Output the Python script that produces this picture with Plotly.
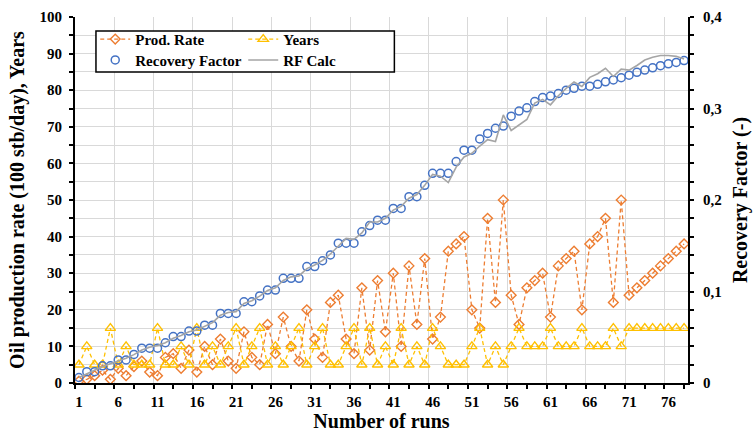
import plotly.graph_objects as go

runs = list(range(1, 79))

prod_rate = [0.5, 1, 2, 3.5, 1, 4, 2, 4.5, 6, 3, 2, 7, 8, 4, 9, 3, 10, 5, 12, 6,
             4, 14, 7, 5, 16, 8, 18, 10, 6, 20, 12, 7, 22, 24, 12, 8, 26, 9, 28, 14,
             30, 10, 32, 16, 34, 12, 18, 36, 38, 40, 20, 15, 45, 22, 50, 24, 16, 26, 28, 30,
             18, 32, 34, 36, 20, 38, 40, 45, 22, 50, 24, 26, 28, 30, 32, 34, 36, 38]

years = [5, 10, 5, 5, 15, 5, 10, 5, 5, 5, 15, 5, 5, 10, 5, 15, 5, 10, 5, 10,
         15, 5, 10, 15, 5, 10, 5, 10, 15, 5, 10, 15, 5, 5, 10, 15, 5, 15, 5, 10,
         5, 15, 5, 10, 5, 15, 10, 5, 5, 5, 10, 15, 5, 10, 5, 10, 15, 10, 10, 10,
         15, 10, 10, 10, 15, 10, 10, 10, 15, 10, 15, 15, 15, 15, 15, 15, 15, 15]

recovery_factor = [0.006, 0.0124, 0.0124, 0.0188, 0.0188, 0.0252, 0.0252, 0.0312, 0.038, 0.038,
                   0.038, 0.044, 0.0508, 0.0508, 0.0568, 0.0568, 0.0632, 0.0632, 0.076, 0.076,
                   0.076, 0.0888, 0.0888, 0.0952, 0.1016, 0.1016, 0.1144, 0.1144, 0.1144, 0.1272,
                   0.1272, 0.1336, 0.14, 0.1528, 0.1528, 0.1528, 0.1652, 0.172, 0.178, 0.178,
                   0.1908, 0.1908, 0.2036, 0.2036, 0.216, 0.2292, 0.2292, 0.2292, 0.242, 0.2544,
                   0.2544, 0.2668, 0.2728, 0.2784, 0.2808, 0.2916, 0.2972, 0.3008, 0.3076, 0.312,
                   0.3136, 0.3164, 0.32, 0.322, 0.3244, 0.3244, 0.3264, 0.3292, 0.3312, 0.3336,
                   0.3364, 0.3396, 0.342, 0.3444, 0.3468, 0.3488, 0.3504, 0.3524]

rf_calc = [0.006, 0.010, 0.014, 0.018, 0.021, 0.024, 0.027, 0.031, 0.036, 0.039,
           0.041, 0.044, 0.049, 0.052, 0.056, 0.058, 0.062, 0.066, 0.074, 0.077,
           0.078, 0.087, 0.090, 0.095, 0.101, 0.104, 0.112, 0.116, 0.117, 0.125,
           0.129, 0.134, 0.141, 0.150, 0.158, 0.157, 0.164, 0.176, 0.176, 0.180,
           0.189, 0.193, 0.202, 0.206, 0.216, 0.228, 0.226, 0.219, 0.236, 0.247,
           0.251, 0.259, 0.266, 0.264, 0.293, 0.276, 0.282, 0.288, 0.306, 0.310,
           0.304, 0.314, 0.322, 0.329, 0.324, 0.334, 0.338, 0.344, 0.335, 0.343,
           0.342, 0.347, 0.353, 0.356, 0.358, 0.358, 0.357, 0.354]

x_labels = [str(v) for v in range(1, 77, 5)]
label_pos = [v - 0.5 for v in range(1, 77, 5)]
minor_pos = [v + 2.5 for v in label_pos]
all_x_ticks = sorted(label_pos + minor_pos)
left_ticks = list(range(0, 101, 5))
left_text = [str(v) if v % 10 == 0 else "" for v in left_ticks]
right_ticks = [i * 0.02 for i in range(21)]
right_text = [("0" if i == 0 else "0,%d" % (i // 5)) if i % 5 == 0 else "" for i in range(21)]

ORANGE = "#ED7D31"
GOLD = "#FFC000"
BLUE = "#4472C4"
GREY = "#A5A5A5"
FONT = "Liberation Serif"

fig = go.Figure()
fig.add_trace(go.Scatter(
    x=runs, y=prod_rate, name="Prod. Rate", mode="lines+markers",
    line=dict(color=ORANGE, width=1.3, dash="4px,3px"),
    marker=dict(symbol="diamond-open", size=7.5, color=ORANGE, line=dict(width=1.4)),
    legend="legend"))
fig.add_trace(go.Scatter(
    x=runs, y=years, name="Years", mode="lines+markers",
    line=dict(color=GOLD, width=1.3, dash="4px,3px"),
    marker=dict(symbol="triangle-up-open", size=9, color=GOLD, line=dict(width=1.4)),
    legend="legend"))
fig.add_trace(go.Scatter(
    x=runs, y=recovery_factor, name="Recovery Factor", mode="markers", yaxis="y2",
    marker=dict(symbol="circle-open", size=8, color=BLUE, line=dict(width=1.5)),
    legend="legend2"))
fig.add_trace(go.Scatter(
    x=runs, y=rf_calc, name="RF Calc", mode="lines", yaxis="y2",
    line=dict(color=GREY, width=1.6),
    legend="legend2"))

tick_common = dict(ticklen=4, tickwidth=1.5, tickcolor="black")
tfont = dict(family=FONT, size=15, weight="bold", color="black")
title_font = dict(family=FONT, size=20, weight="bold", color="black")
fig.update_layout(
    width=753, height=434,
    margin=dict(l=75, r=65, t=17, b=51, autoexpand=False),
    paper_bgcolor="white", plot_bgcolor="white",
    font=dict(family=FONT, size=15, color="black", weight="bold"),
    showlegend=True,
    xaxis=dict(
        range=[0.5, 78.5], tickmode="array", tickvals=label_pos, ticktext=x_labels,
        ticklabelshift=4, ticks="outside", **tick_common, automargin=False,
        showline=True, linewidth=2, linecolor="black",
        showgrid=True, gridcolor="#D9D9D9", gridwidth=1, zeroline=False,
        minor=dict(tickmode="array", tickvals=minor_pos, ticks="outside", showgrid=False,
                   **tick_common),
        tickfont=tfont,
        title=dict(text="Number of runs", font=title_font, standoff=3),
    ),
    xaxis3=dict(
        overlaying="x", anchor="y", side="bottom", range=[0.5, 78.5], automargin=False,
        tickmode="array", tickvals=all_x_ticks, ticks="inside", **tick_common,
        showticklabels=False, showgrid=False, showline=False, zeroline=False),
    yaxis=dict(
        range=[0, 100], tickmode="array", tickvals=left_ticks, ticktext=left_text,
        ticks="outside", **tick_common, automargin=False, ticklabelstandoff=4,
        showline=True, linewidth=2, linecolor="black",
        showgrid=True, gridcolor="#D9D9D9", gridwidth=1, zeroline=False,
        tickfont=tfont,
        title=dict(text="Oil production rate (100 stb/day), Years",
                   font=title_font, standoff=10),
    ),
    yaxis3=dict(
        overlaying="y", anchor="x", side="left", range=[0, 100], automargin=False,
        tickmode="array", tickvals=left_ticks, ticks="inside", **tick_common,
        showticklabels=False, showgrid=False, showline=False, zeroline=False),
    yaxis2=dict(
        overlaying="y", side="right", range=[0, 0.4], tickmode="array", automargin=False,
        tickvals=right_ticks, ticktext=right_text, ticks="outside", **tick_common,
        ticklabelstandoff=6,
        showline=True, linewidth=2, linecolor="black", showgrid=False, zeroline=False,
        tickfont=tfont,
        title=dict(text="Recovery Factor (-)", font=title_font, standoff=12),
    ),
    yaxis4=dict(
        overlaying="y", anchor="x", side="right", range=[0, 0.4], automargin=False,
        tickmode="array", tickvals=right_ticks, ticks="inside", **tick_common,
        showticklabels=False, showgrid=False, showline=False, zeroline=False),
    legend=dict(
        orientation="h", x=0.033, y=0.984, xanchor="left", yanchor="top",
        entrywidth=103, bgcolor="rgba(0,0,0,0)", borderwidth=0,
        font=dict(family=FONT, size=15, color="black", weight="bold"),
        tracegroupgap=0, itemclick=False),
    legend2=dict(
        orientation="h", x=0.033, y=0.927, xanchor="left", yanchor="top",
        entrywidth=103, bgcolor="rgba(0,0,0,0)", borderwidth=0,
        font=dict(family=FONT, size=15, color="black", weight="bold"),
        tracegroupgap=0, itemclick=False),
    shapes=[dict(type="rect", xref="paper", yref="paper",
                 x0=0.0342, x1=0.521, y0=0.8497, y1=0.9617,
                 fillcolor="white", line=dict(color="black", width=1.5), layer="above")],
)

fig.write_html("out.html", config={"displayModeBar": False},
               post_script="document.body.style.margin='0px';")
